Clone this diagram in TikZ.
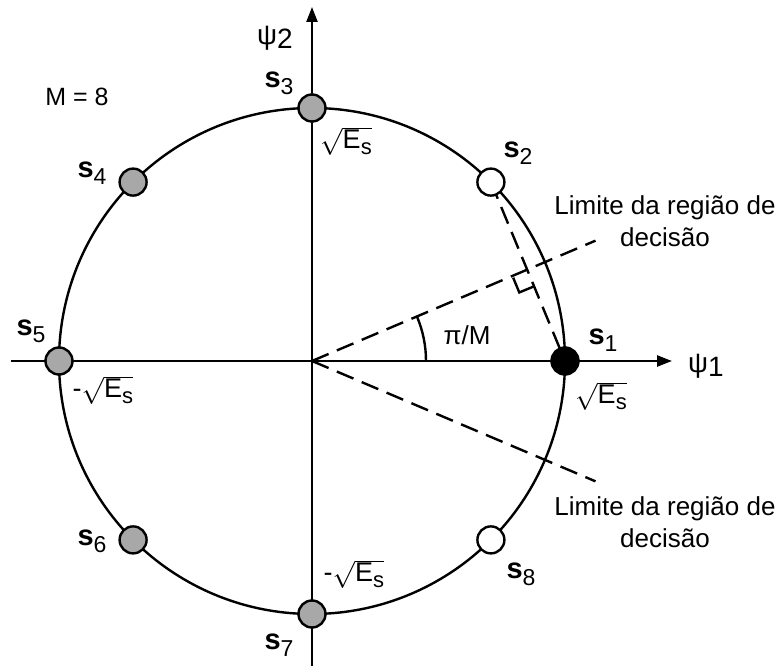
\RequirePackage{fix-cm}
\documentclass[tikz,border=0pt]{standalone}
\usepackage{fontspec}
\setmainfont{Liberation Sans}
\usetikzlibrary{arrows.meta,calc}
\definecolor{dotgray}{RGB}{168,168,168}
\newcommand{\slab}[1]{{\fontsize{29}{29}\selectfont\bfseries s}\raisebox{-7pt}{\fontsize{23}{23}\selectfont #1}}
\newcommand{\psilab}[1]{{\fontsize{28}{28}\selectfont ψ\raisebox{-4pt}{#1}}}
\newcommand{\rootE}{$\sqrt{\hbox{E\raisebox{-6pt}{\fontsize{22}{22}\selectfont s}}}$}
\tikzset{
  stroke/.style={line width=2.4pt},
  axisline/.style={stroke,-{Triangle[length=15pt,width=11pt]}},
  bline/.style={stroke,dash pattern=on 18pt off 9pt},
  sig/.style={circle,draw,stroke,minimum size=27pt,inner sep=0pt},
  txt/.style={inner sep=0pt,font=\fontsize{26}{32}\selectfont},
}
\begin{document}
\begin{tikzpicture}[x=1pt,y=1pt]
\useasboundingbox (-312,-305) rectangle (470,361);
\coordinate (O) at (0,0);
\coordinate (xa) at (-301,0);
\coordinate (xb) at (360,0);
\coordinate (ya) at (0,-305);
\coordinate (yb) at (0,354);
\draw[axisline] (xa) -- (xb);
\draw[axisline] (ya) -- (yb);
\draw[stroke] (O) circle (253);
\coordinate (b1) at (23:308);
\coordinate (b2) at (-23:308);
\draw[bline] (O) -- (b1);
\draw[bline] (O) -- (b2);
\draw[stroke] ($(O)+(0:114)$) arc[start angle=0,end angle=23,radius=114];
% signal points
\coordinate (p1) at (0:253);
\coordinate (p2) at (45:253);
\draw[bline] (p2) -- (p1);
\coordinate (P) at ($(p1)!0.5!(p2)$);
\coordinate (PA) at ($(P)!16pt!(O)$);
\coordinate (PB) at ($(P)!16pt!(p1)$);
\draw[stroke] (PA) -- ($(PA)+(PB)-(P)$) -- (PB);
\node[sig,fill=black] (s1) at (p1) {};
\node[sig,fill=white] (s2) at (p2) {};
\node[sig,fill=dotgray] (s3) at (90:253) {};
\node[sig,fill=dotgray] (s4) at (135:253) {};
\node[sig,fill=dotgray] (s5) at (180:253) {};
\node[sig,fill=dotgray] (s6) at (225:253) {};
\node[sig,fill=dotgray] (s7) at (270:253) {};
\node[sig,fill=white] (s8) at (315:253) {};
% labels
\node[txt] (l1) at (291,21) {\slab{1}};
\node[txt] (l2) at (206,208) {\slab{2}};
\node[txt] (l3) at (-33,278) {\slab{3}};
\node[txt] (l4) at (-220,188) {\slab{4}};
\node[txt] (l5) at (-281,30) {\slab{5}};
\node[txt] (l6) at (-220,-180) {\slab{6}};
\node[txt] (l7) at (-33,-284) {\slab{7}};
\node[txt] (l8) at (209,-213) {\slab{8}};
\node[txt] (psi2) at (-37,323) {\psilab{2}};
\node[txt] (psi1) at (394,-5) {\psilab{1}};
\node[txt,font=\fontsize{25}{30}\selectfont] (M) at (-235,264) {M = 8};
\node[txt] (pim) at (155,26) {π/M};
\node[txt,font=\fontsize{27}{30}\selectfont] (e3) at (34,220) {\rootE};
\node[txt,font=\fontsize{27}{30}\selectfont] (e1) at (289,-35) {\rootE};
\node[txt,font=\fontsize{27}{30}\selectfont] (e5) at (-209,-29) {-\rootE};
\node[txt,font=\fontsize{27}{30}\selectfont] (e7) at (42,-213) {-\rootE};
\node[txt,align=center] (lim1) at (353,140) {Limite da região de\\decisão};
\node[txt,align=center] (lim2) at (353,-161) {Limite da região de\\decisão};
\end{tikzpicture}
\end{document}
